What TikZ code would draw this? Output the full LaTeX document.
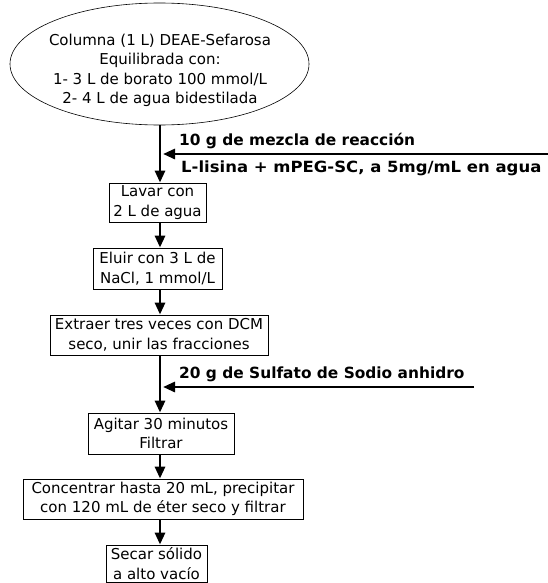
\documentclass[tikz,border=0pt]{standalone}
\usepackage{fontspec}
\usepackage{graphicx}
\setmainfont{DejaVu Sans}
\usetikzlibrary{arrows.meta,shapes.geometric}
\newcommand\stepfont{\fontsize{15pt}{19.5pt}\selectfont}
\newcommand\notefont{\fontsize{15.4pt}{17pt}\selectfont\bfseries}
\begin{document}
\begin{tikzpicture}[
              x = 1pt, y = -1pt,
              stepbox/.style = {draw, line width = 0.8pt, align = center, inner sep = 0pt, font = \stepfont},
              flow/.style = {line width = 2.8pt, -{Triangle[length = 12pt, width = 10pt]}},
              note/.style = {font = \notefont, anchor = west, inner sep = 0pt}
            ]
            \useasboundingbox (0,0) rectangle (548,583);
            % nodes
            \node[ellipse, draw, line width = 0.6pt, minimum width = 299, minimum height = 122, inner sep = 0pt] (col) at (159.5, 64) {};
            \node[align = center, inner sep = 0pt, font = \stepfont] (coltxt) at (160, 70.5)
                  {Columna (1 L) DEAE-Sefarosa\\Equilibrada con:\\1- 3 L de borato 100 mmol/L\\2- 4 L de agua bidestilada};
            \node[stepbox, minimum width = 97, minimum height = 39]  (lav) at (157.5, 202.5) {Lavar con\\2 L de agua};
            \node[stepbox, minimum width = 129, minimum height = 41] (elu) at (157.5, 268.5) {Eluir con 3 L de\\NaCl, 1 mmol/L};
            \node[stepbox, minimum width = 218, minimum height = 40] (ext) at (159, 335) {Extraer tres veces con DCM\\seco, unir las fracciones};
            \node[stepbox, minimum width = 146, minimum height = 41] (agi) at (161, 433.5) {Agitar 30 minutos\\Filtrar};
            \node[stepbox, minimum width = 280, minimum height = 40] (con) at (163, 499) {Concentrar hasta 20 mL, precipitar\\con 120 mL de éter seco y filtrar};
            \node[stepbox, minimum width = 101, minimum height = 37.5] (sec) at (156.5, 563.75) {Secar sólido\\a alto vacío};
            % the additions
            \coordinate (axis) at (160, 0);
            \coordinate (in1)  at (549, 154);
            \coordinate (in2)  at (474, 387);
            \node[note] (mez) at (179, 141) {10 g de mezcla de reacción};
            \node[note] (lis) at (181, 168) {\scalebox{1.07}[1]{L-lisina + mPEG-SC, a 5mg/mL en agua}};
            \node[note] (sul) at (179, 374) {20 g de Sulfato de Sodio anhidro};
            % the main line
            \draw[flow] (col.south -| axis) -- (lav.north -| axis);
            \draw[flow] (lav.south -| axis) -- (elu.north -| axis);
            \draw[flow] (elu.south -| axis) -- (ext.north -| axis);
            \draw[flow] (ext.south -| axis) -- (agi.north -| axis);
            \draw[flow] (agi.south -| axis) -- (con.north -| axis);
            \draw[flow] (con.south -| axis) -- (sec.north -| axis);
            \draw[flow] (in1) -- ([xshift = 3pt] in1 -| axis);
            \draw[flow] (in2) -- ([xshift = 3pt] in2 -| axis);
          \end{tikzpicture}
\end{document}
